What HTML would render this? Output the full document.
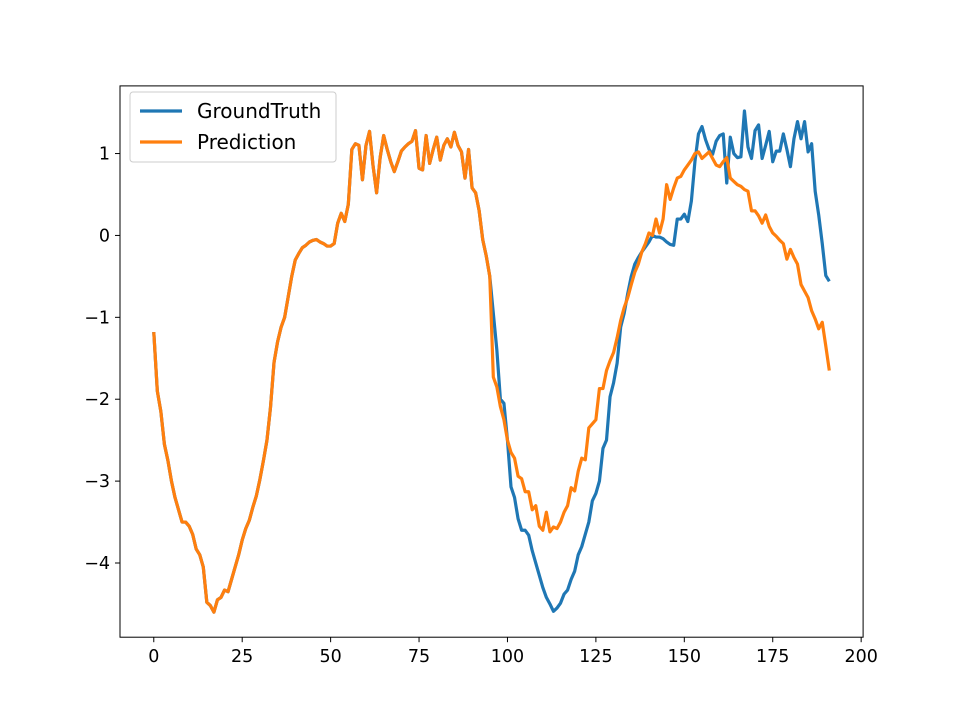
<!DOCTYPE html>
<html><head><meta charset="utf-8"><style>
html,body{margin:0;padding:0;background:#fff;}
svg{display:block;font-family:"DejaVu Sans","Liberation Sans",sans-serif;}
</style></head><body>
<svg id="chart" width="959" height="716" viewBox="0 0 959 716" xmlns="http://www.w3.org/2000/svg">
<rect width="959" height="716" fill="#fff"/>
<g id="plot"></g>
<g id="xaxis"></g>
<g id="yaxis"></g>
<rect x="120" y="85.9" width="743.1" height="551.3" fill="none" stroke="#000" stroke-width="1"/>
<g>
<rect x="130" y="92" width="206" height="70" rx="3" fill="#fff" fill-opacity="0.8" stroke="#ccc" stroke-width="1"/>
<line x1="140" y1="111" x2="182" y2="111" stroke="#1f77b4" stroke-width="3.2"/>
<text x="197" y="118" font-size="20" fill="#000">GroundTruth</text>
<line x1="140" y1="142" x2="182" y2="142" stroke="#ff7f0e" stroke-width="3.2"/>
<text x="197" y="149" font-size="20" fill="#000">Prediction</text>
</g>
</svg>
<script>
const shared = [-1.18,-1.9,-2.15,-2.55,-2.75,-3.0,-3.2,-3.35,-3.5,-3.5,-3.55,-3.65,-3.83,-3.9,-4.05,-4.48,-4.52,-4.6,-4.45,-4.42,-4.33,-4.35,-4.2,-4.05,-3.9,-3.72,-3.58,-3.48,-3.32,-3.18,-2.98,-2.75,-2.5,-2.1,-1.55,-1.3,-1.12,-1.0,-0.75,-0.5,-0.3,-0.22,-0.15,-0.12,-0.08,-0.06,-0.05,-0.08,-0.1,-0.13,-0.13,-0.1,0.15,0.27,0.17,0.38,1.05,1.12,1.1,0.68,1.1,1.27,0.85,0.52,0.95,1.22,1.05,0.9,0.78,0.9,1.03,1.08,1.12,1.15,1.28,0.82,0.8,1.22,0.88,1.05,1.2,0.92,1.1,1.18,1.08,1.26,1.1,1.02,0.7,1.05,0.58,0.52,0.3,-0.05,-0.25,-0.5];
const groundTruthTail = [-0.95,-1.4,-2.0,-2.05,-2.5,-3.07,-3.2,-3.46,-3.6,-3.6,-3.66,-3.85,-4.0,-4.15,-4.3,-4.42,-4.5,-4.59,-4.55,-4.49,-4.38,-4.33,-4.2,-4.1,-3.9,-3.8,-3.65,-3.5,-3.24,-3.15,-3.0,-2.6,-2.5,-1.97,-1.8,-1.56,-1.12,-0.95,-0.71,-0.5,-0.35,-0.27,-0.2,-0.14,-0.08,0.0,-0.02,-0.02,-0.04,-0.08,-0.11,-0.12,0.2,0.2,0.26,0.17,0.42,0.9,1.24,1.33,1.17,1.05,0.99,1.15,1.22,1.24,0.64,1.2,1.0,0.95,0.96,1.52,1.08,0.94,1.28,1.35,0.94,1.1,1.27,0.9,1.03,1.03,1.24,1.05,0.84,1.18,1.39,1.18,1.39,1.02,1.12,0.54,0.25,-0.1,-0.49,-0.56];
const predictionTail = [-1.73,-1.85,-2.09,-2.25,-2.5,-2.65,-2.72,-2.94,-2.97,-3.13,-3.13,-3.35,-3.3,-3.55,-3.6,-3.38,-3.62,-3.56,-3.58,-3.5,-3.38,-3.3,-3.08,-3.12,-2.88,-2.72,-2.74,-2.35,-2.3,-2.25,-1.87,-1.87,-1.65,-1.53,-1.43,-1.25,-1.04,-0.88,-0.76,-0.6,-0.45,-0.35,-0.2,-0.1,0.03,0.0,0.2,0.03,0.2,0.62,0.44,0.58,0.7,0.72,0.8,0.86,0.92,1.0,1.02,0.94,0.98,1.02,0.94,0.86,0.84,0.9,0.95,0.7,0.66,0.62,0.6,0.56,0.54,0.3,0.3,0.24,0.15,0.25,0.11,0.03,-0.01,-0.06,-0.1,-0.29,-0.17,-0.27,-0.35,-0.6,-0.68,-0.76,-0.92,-1.02,-1.14,-1.06,-1.35,-1.65];
const groundTruth = shared.concat(groundTruthTail);
const prediction = shared.concat(predictionTail);
const xTicks = [0,25,50,75,100,125,150,175,200];
const yTicks = [-4,-3,-2,-1,0,1];
const yTickLabels = ["\u22124","\u22123","\u22122","\u22121","0","1"];

const L=120,R=863.1,T=85.9,B=637.2;
const n=groundTruth.length;
const xmin=-0.05*(n-1), xmax=(n-1)*1.05;
const all=groundTruth.concat(prediction);
const dmin=Math.min(...all), dmax=Math.max(...all), pad=0.05*(dmax-dmin);
const ymin=dmin-pad, ymax=dmax+pad;
const sx=v=>L+(v-xmin)/(xmax-xmin)*(R-L);
const sy=v=>B-(v-ymin)/(ymax-ymin)*(B-T);
const NS="http://www.w3.org/2000/svg";
const plot=document.getElementById('plot'), xa=document.getElementById('xaxis'), ya=document.getElementById('yaxis');
function path(data,color,name){
  const p=document.createElementNS(NS,'path');
  p.setAttribute('d',data.map((v,i)=>(i?'L':'M')+sx(i).toFixed(2)+','+sy(v).toFixed(2)).join(''));
  p.setAttribute('fill','none');p.setAttribute('stroke',color);p.setAttribute('stroke-width','3.2');
  p.setAttribute('stroke-linejoin','round');
  
  
  plot.appendChild(p);
}
path(groundTruth,'#1f77b4','groundtruth-line');
path(prediction,'#ff7f0e','prediction-line');
xTicks.forEach(t=>{
  const x=sx(t);
  const l=document.createElementNS(NS,'line');
  l.setAttribute('x1',x);l.setAttribute('x2',x);l.setAttribute('y1',B);l.setAttribute('y2',B+5);l.setAttribute('stroke','#000');
  
  
  xa.appendChild(l);
  const tx=document.createElementNS(NS,'text');
  tx.setAttribute('x',x);tx.setAttribute('y',B+25);tx.setAttribute('text-anchor','middle');tx.setAttribute('font-size','17.5');
  tx.textContent=String(t);
  
  
  xa.appendChild(tx);
});
yTicks.forEach((t,i)=>{
  const y=sy(t);
  const l=document.createElementNS(NS,'line');
  l.setAttribute('x1',L-5);l.setAttribute('x2',L);l.setAttribute('y1',y);l.setAttribute('y2',y);l.setAttribute('stroke','#000');
  
  
  ya.appendChild(l);
  const tx=document.createElementNS(NS,'text');
  tx.setAttribute('x',L-10);tx.setAttribute('y',y+6);tx.setAttribute('text-anchor','end');tx.setAttribute('font-size','17.5');
  tx.textContent=yTickLabels[i];
  
  
  ya.appendChild(tx);
});
</script>
</body></html>
